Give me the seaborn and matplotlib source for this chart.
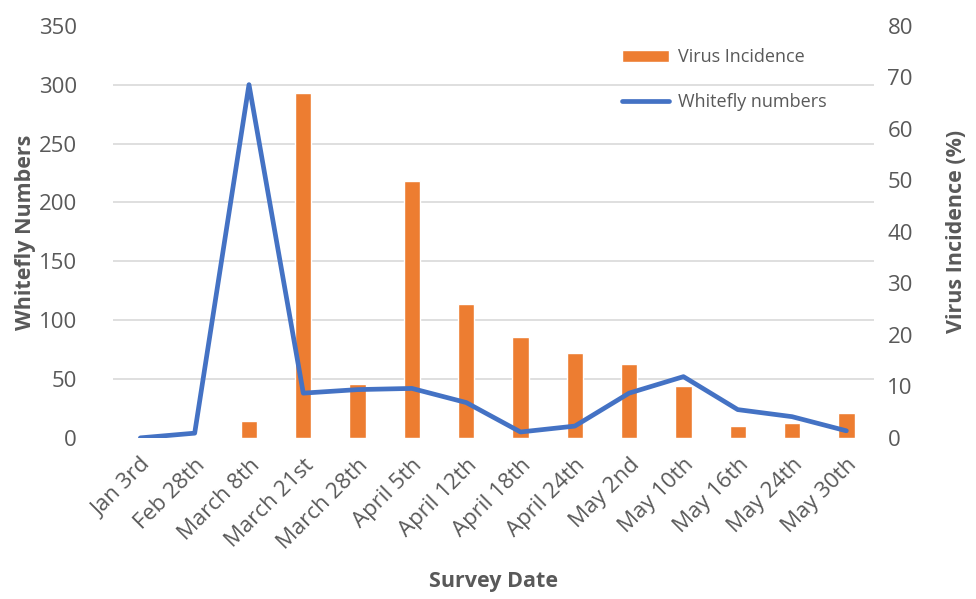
import numpy as np
import pandas as pd
import matplotlib
matplotlib.use("Agg")
import matplotlib.pyplot as plt
from matplotlib.ticker import FixedLocator, MultipleLocator
import seaborn as sns

dates = ["Jan 3rd", "Feb 28th", "March 8th", "March 21st", "March 28th", "April 5th",
         "April 12th", "April 18th", "April 24th", "May 2nd", "May 10th", "May 16th",
         "May 24th", "May 30th"]
virus_incidence = [0, 0, 3.2, 67.0, 10.4, 49.8, 26.0, 19.6, 16.5, 14.3, 10.0, 2.3, 2.9, 4.8]
whitefly_numbers = [0, 4, 300, 38, 41, 42, 30, 5, 10, 38, 52, 24, 18, 6]

df = pd.DataFrame({"date": dates, "pos": np.arange(len(dates)),
                   "virus": virus_incidence, "whitefly": whitefly_numbers})

sns.set_theme(style="white")
plt.rcParams["font.family"] = ["Open Sans", "DejaVu Sans"]

grey = "#595959"
blue = "#4472C4"
orange = "#ED7D31"

fig = plt.figure(figsize=(9.76, 5.99), dpi=100)
ax_l = fig.add_axes([0.116, 0.269, 0.779, 0.688])
ax_r = ax_l.twinx()

# bars on right axis (drawn underneath)
sns.barplot(data=df, x="pos", y="virus", ax=ax_r, color=orange, width=0.3,
            saturation=1, native_scale=True, label="Virus Incidence", zorder=2)
ax_r.set_ylim(0, 80)
ax_r.yaxis.set_major_locator(MultipleLocator(10))
ax_r.yaxis.set_minor_locator(FixedLocator(np.arange(50, 351, 50) * 80 / 350))
ax_r.grid(which="minor", axis="y", color="#D9D9D9", linewidth=1.2, zorder=0)
ax_r.grid(which="major", visible=False)
ax_r.set_axisbelow(True)
ax_r.tick_params(axis="y", which="both", length=0, labelsize=16, labelcolor=grey, pad=10)
ax_r.set_ylabel("Virus Incidence (%)", fontsize=15.5, fontweight="bold", color=grey, labelpad=24)

# line on left axis (drawn on top)
ax_l.set_zorder(ax_r.get_zorder() + 1)
ax_l.patch.set_visible(False)
sns.lineplot(data=df, x="pos", y="whitefly", ax=ax_l, color=blue, linewidth=3.4,
             label="Whitefly numbers", solid_capstyle="round")
ax_l.set_ylim(0, 350)
ax_l.yaxis.set_major_locator(MultipleLocator(50))
ax_l.set_xlim(-0.5, len(dates) - 0.5)
ax_l.set_xticks(df["pos"])
ax_l.set_xticklabels(dates, rotation=45, ha="right", rotation_mode="anchor")
ax_l.tick_params(axis="both", length=0, labelsize=16, labelcolor=grey)
ax_l.tick_params(axis="y", pad=26)
ax_l.tick_params(axis="x", pad=12)
ax_l.set_ylabel("Whitefly Numbers", fontsize=15.5, fontweight="bold", color=grey, labelpad=2)
ax_l.set_xlabel("Survey Date", fontsize=15.5, fontweight="bold", color=grey, labelpad=13)

for a in (ax_l, ax_r):
    for s in a.spines.values():
        s.set_visible(False)

ax_r.set_xlim(-0.5, len(dates) - 0.5)
ax_r.tick_params(axis="x", length=0)

h1, l1 = ax_r.get_legend_handles_labels()
h2, l2 = ax_l.get_legend_handles_labels()
if ax_r.get_legend():
    ax_r.get_legend().remove()
leg = ax_l.legend(h1 + h2, l1 + l2, loc="upper left", bbox_to_anchor=(0.648, 0.985),
                  frameon=False, fontsize=13, labelspacing=1.5, handlelength=2.6,
                  handletextpad=0.5)
for t in leg.get_texts():
    t.set_color(grey)

fig.savefig("out.png", dpi=100)
